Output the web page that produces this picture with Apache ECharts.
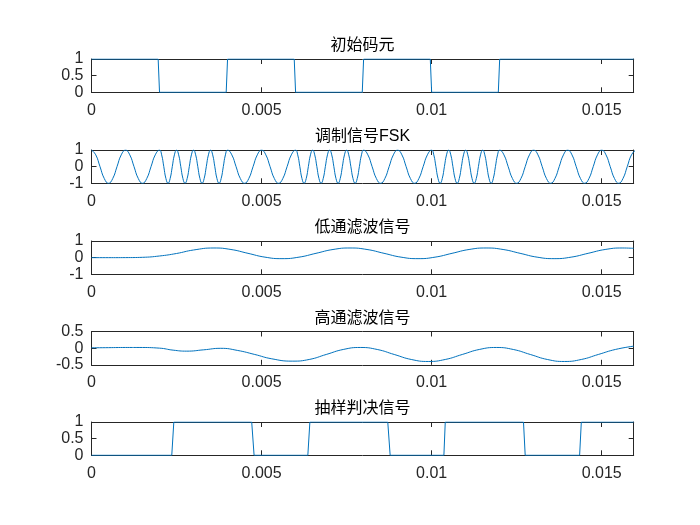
<!DOCTYPE html>
<html>
<head>
<meta charset="utf-8">
<script src="https://cdn.jsdelivr.net/npm/echarts@6/dist/echarts.min.js"></script>
<style>
html,body{margin:0;padding:0;background:#fff;}
#chart{width:700px;height:525px;}
</style>
</head>
<body>
<div id="chart"></div>
<script>
// ---------- data ----------
const titles = ['初始码元', '调制信号FSK', '低通滤波信号', '高通滤波信号', '抽样判决信号'];

const xMax = 0.01594;
const xTickValues = [0, 0.005, 0.01, 0.015];
const xTickLabels = ['0', '0.005', '0.01', '0.015'];

const yTickValues = [[0, 0.5, 1], [-1, 0, 1], [-1, 0, 1], [-0.5, 0, 0.5], [0, 0.5, 1]];
const yTickLabels = [['0', '0.5', '1'], ['-1', '0', '1'], ['-1', '0', '1'], ['-0.5', '0', '0.5'], ['0', '0.5', '1']];

// 初始码元
const codeT = [0, 0.00196, 0.002, 0.00396, 0.004, 0.00596, 0.006, 0.00796, 0.008, 0.00996, 0.010, 0.01196, 0.012, 0.01594];
const codeV = [1, 1, 0, 0, 1, 1, 0, 0, 1, 1, 0, 0, 1, 1];

// 调制信号FSK (read at eighth-period points of each cycle)
const fskT = [
  // 0 – 0.002 (slow)
  0, 0.000125, 0.00025, 0.000375, 0.0005, 0.000625, 0.00075, 0.000875,
  0.001, 0.001125, 0.00125, 0.001375, 0.0015, 0.001625, 0.00175, 0.001875,
  // 0.002 – 0.004 (fast)
  0.002, 0.0020625, 0.002125, 0.0021875, 0.00225, 0.0023125, 0.002375, 0.0024375,
  0.0025, 0.0025625, 0.002625, 0.0026875, 0.00275, 0.0028125, 0.002875, 0.0029375,
  0.003, 0.0030625, 0.003125, 0.0031875, 0.00325, 0.0033125, 0.003375, 0.0034375,
  0.0035, 0.0035625, 0.003625, 0.0036875, 0.00375, 0.0038125, 0.003875, 0.0039375,
  // 0.004 – 0.006 (slow)
  0.004, 0.004125, 0.00425, 0.004375, 0.0045, 0.004625, 0.00475, 0.004875,
  0.005, 0.005125, 0.00525, 0.005375, 0.0055, 0.005625, 0.00575, 0.005875,
  // 0.006 – 0.008 (fast)
  0.006, 0.0060625, 0.006125, 0.0061875, 0.00625, 0.0063125, 0.006375, 0.0064375,
  0.0065, 0.0065625, 0.006625, 0.0066875, 0.00675, 0.0068125, 0.006875, 0.0069375,
  0.007, 0.0070625, 0.007125, 0.0071875, 0.00725, 0.0073125, 0.007375, 0.0074375,
  0.0075, 0.0075625, 0.007625, 0.0076875, 0.00775, 0.0078125, 0.007875, 0.0079375,
  // 0.008 – 0.010 (slow)
  0.008, 0.008125, 0.00825, 0.008375, 0.0085, 0.008625, 0.00875, 0.008875,
  0.009, 0.009125, 0.00925, 0.009375, 0.0095, 0.009625, 0.00975, 0.009875,
  // 0.010 – 0.012 (fast)
  0.010, 0.0100625, 0.010125, 0.0101875, 0.01025, 0.0103125, 0.010375, 0.0104375,
  0.0105, 0.0105625, 0.010625, 0.0106875, 0.01075, 0.0108125, 0.010875, 0.0109375,
  0.011, 0.0110625, 0.011125, 0.0111875, 0.01125, 0.0113125, 0.011375, 0.0114375,
  0.0115, 0.0115625, 0.011625, 0.0116875, 0.01175, 0.0118125, 0.011875, 0.0119375,
  // 0.012 – 0.016 (slow)
  0.012, 0.012125, 0.01225, 0.012375, 0.0125, 0.012625, 0.01275, 0.012875,
  0.013, 0.013125, 0.01325, 0.013375, 0.0135, 0.013625, 0.01375, 0.013875,
  0.014, 0.014125, 0.01425, 0.014375, 0.0145, 0.014625, 0.01475, 0.014875,
  0.015, 0.015125, 0.01525, 0.015375, 0.0155, 0.015625, 0.01575, 0.015875, 0.016
];
const fskV = [
  1, 0.71, 0, -0.71, -1, -0.71, 0, 0.71,
  1, 0.71, 0, -0.71, -1, -0.71, 0, 0.71,
  1, 0.71, 0, -0.71, -1, -0.71, 0, 0.71,
  1, 0.71, 0, -0.71, -1, -0.71, 0, 0.71,
  1, 0.71, 0, -0.71, -1, -0.71, 0, 0.71,
  1, 0.71, 0, -0.71, -1, -0.71, 0, 0.71,
  1, 0.71, 0, -0.71, -1, -0.71, 0, 0.71,
  1, 0.71, 0, -0.71, -1, -0.71, 0, 0.71,
  1, 0.71, 0, -0.71, -1, -0.71, 0, 0.71,
  1, 0.71, 0, -0.71, -1, -0.71, 0, 0.71,
  1, 0.71, 0, -0.71, -1, -0.71, 0, 0.71,
  1, 0.71, 0, -0.71, -1, -0.71, 0, 0.71,
  1, 0.71, 0, -0.71, -1, -0.71, 0, 0.71,
  1, 0.71, 0, -0.71, -1, -0.71, 0, 0.71,
  1, 0.71, 0, -0.71, -1, -0.71, 0, 0.71,
  1, 0.71, 0, -0.71, -1, -0.71, 0, 0.71,
  1, 0.71, 0, -0.71, -1, -0.71, 0, 0.71,
  1, 0.71, 0, -0.71, -1, -0.71, 0, 0.71,
  1, 0.71, 0, -0.71, -1, -0.71, 0, 0.71,
  1, 0.71, 0, -0.71, -1, -0.71, 0, 0.71,
  1, 0.71, 0, -0.71, -1, -0.71, 0, 0.71,
  1, 0.71, 0, -0.71, -1, -0.71, 0, 0.71,
  1, 0.71, 0, -0.71, -1, -0.71, 0, 0.71,
  1, 0.71, 0, -0.71, -1, -0.71, 0, 0.71,
  1
];

// 低通滤波信号
const lpT = [0, 0.0005, 0.001, 0.0015, 0.002, 0.0025, 0.003, 0.0036, 0.0041, 0.0046, 0.0051, 0.0056, 0.0061, 0.0066, 0.0071, 0.0076, 0.0081, 0.0086, 0.0091, 0.0096, 0.0101, 0.0106, 0.0111, 0.0116, 0.0121, 0.0126, 0.0131, 0.0136, 0.0141, 0.0146, 0.0151, 0.0156, 0.01594];
const lpV = [0, 0, 0.003, 0.02, 0.1, 0.25, 0.46, 0.58, 0.49, 0.26, 0.03, -0.06, 0.03, 0.26, 0.49, 0.58, 0.49, 0.26, 0.03, -0.06, 0.03, 0.26, 0.49, 0.58, 0.49, 0.26, 0.03, -0.06, 0.03, 0.26, 0.49, 0.58, 0.56];

// 高通滤波信号
const hpT = [0, 0.0005, 0.001, 0.0014, 0.002, 0.0024, 0.0028, 0.0033, 0.0038, 0.0043, 0.0048, 0.0053, 0.0059, 0.0064, 0.0069, 0.0074, 0.0079, 0.0084, 0.0089, 0.0094, 0.0099, 0.0104, 0.0109, 0.0114, 0.0119, 0.0124, 0.0129, 0.0134, 0.0139, 0.0144, 0.0149, 0.0154, 0.01594];
const hpV = [0.01, 0.015, 0.02, 0.02, 0.0, -0.06, -0.09, -0.05, -0.005, -0.07, -0.19, -0.32, -0.39, -0.34, -0.19, -0.04, 0.02, -0.04, -0.19, -0.34, -0.4, -0.34, -0.19, -0.04, 0.02, -0.04, -0.19, -0.34, -0.4, -0.34, -0.19, -0.04, 0.06];

// 抽样判决信号
const decT = [0, 0.00236, 0.00242, 0.00471, 0.00478, 0.00636, 0.00642, 0.00871, 0.00878, 0.01036, 0.0104, 0.0127, 0.01275, 0.01435, 0.0144, 0.01594];
const decV = [0, 0, 1, 1, 0, 0, 1, 1, 0, 0, 1, 1, 0, 0, 1, 1];

const seriesT = [codeT, fskT, lpT, hpT, decT];
const seriesV = [codeV, fskV, lpV, hpV, decV];
const smoothFlags = [false, 0.5, 0.5, 0.5, false];

// ---------- layout ----------
const gridTops = [59, 150, 241, 331.5, 422];
const gridH = 33.3;
const gridLeft = 91.5;
const gridRight = 66.3;
const axisColor = '#262626';
const lineColor = '#0072BD';
const tickFont = "'Liberation Sans', Arial, sans-serif";
const titleFont = "'Liberation Sans', 'Noto Sans CJK SC', sans-serif";

const grids = [], xAxes = [], yAxes = [], series = [], titleArr = [];
function pick(vals, labs) {
  return function (v) {
    for (let k = 0; k < vals.length; k++) if (Math.abs(vals[k] - v) < 1e-9) return labs[k];
    return '';
  };
}
for (let i = 0; i < 5; i++) {
  grids.push({ left: gridLeft, right: gridRight, top: gridTops[i], height: gridH, containLabel: false });
  const lineStyle = { color: axisColor, width: 1 };
  ['bottom', 'top'].forEach(function (pos) {
    xAxes.push({
      type: 'value', gridIndex: i, position: pos, min: 0, max: xMax,
      axisLine: { show: true, onZero: false, lineStyle: lineStyle },
      axisTick: { show: true, inside: true, length: 5, lineStyle: lineStyle, customValues: xTickValues },
      axisLabel: {
        show: pos === 'bottom', customValues: xTickValues, formatter: pick(xTickValues, xTickLabels),
        fontSize: 16, fontFamily: tickFont, color: axisColor, margin: 10
      },
      splitLine: { show: false }
    });
  });
  const yv = yTickValues[i];
  ['left', 'right'].forEach(function (pos) {
    yAxes.push({
      type: 'value', gridIndex: i, position: pos, min: yv[0], max: yv[yv.length - 1],
      axisLine: { show: true, onZero: false, lineStyle: lineStyle },
      axisTick: { show: true, inside: true, length: 5, lineStyle: lineStyle, customValues: yv },
      axisLabel: {
        show: pos === 'left', customValues: yv, formatter: pick(yv, yTickLabels[i]),
        fontSize: 16, fontFamily: tickFont, color: axisColor, margin: 8
      },
      splitLine: { show: false }
    });
  });
  const data = seriesT[i].map(function (t, k) { return [t, seriesV[i][k]]; });
  series.push({
    type: 'line', xAxisIndex: 2 * i, yAxisIndex: 2 * i, data: data,
    showSymbol: false, smooth: smoothFlags[i], clip: true,
    lineStyle: { color: lineColor, width: 1 }, animation: false
  });
  titleArr.push({
    text: titles[i], left: gridLeft + (700 - gridLeft - gridRight) / 2, top: gridTops[i] - 21,
    textAlign: 'center', padding: 0,
    textStyle: { fontSize: 16, fontWeight: 'normal', fontFamily: titleFont, color: '#000' }
  });
}

const chart = echarts.init(document.getElementById('chart'), null, { renderer: 'canvas' });
chart.setOption({
  backgroundColor: '#ffffff',
  animation: false,
  title: titleArr,
  grid: grids,
  xAxis: xAxes,
  yAxis: yAxes,
  series: series
});
</script>
</body>
</html>
